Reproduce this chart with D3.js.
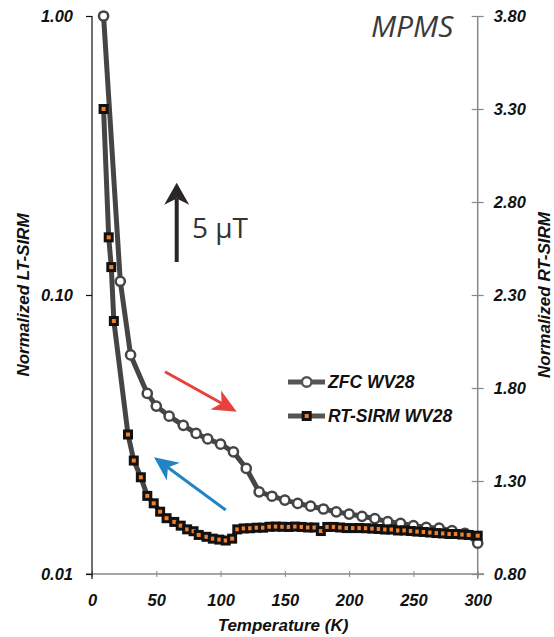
<!DOCTYPE html>
<html><head><meta charset="utf-8">
<script src="https://cdn.jsdelivr.net/npm/d3@7"></script>
<style>body{margin:0;background:#fff}svg{display:block}</style>
</head><body>
<svg id="c" width="554" height="637"></svg>
<script>
// ZFC WV28 (left axis, log)
const zfcT = [9, 22, 30, 43, 50, 60, 71, 81, 90, 100, 110, 120, 130, 140, 150, 160, 170, 180, 190, 200, 210, 220, 230, 240, 250, 260, 270, 280, 290, 300];
const zfcV = [1.00, 0.112, 0.061, 0.0444, 0.0400, 0.0368, 0.0341, 0.0319, 0.0305, 0.0292, 0.0274, 0.0239, 0.0197, 0.0190, 0.0184, 0.0179, 0.0175, 0.0171, 0.0167, 0.0164, 0.0161, 0.0158, 0.0154, 0.0152, 0.0149, 0.0147, 0.0146, 0.0143, 0.0140, 0.0129];
// RT-SIRM WV28 (right axis, linear)
const rtT = [9, 13, 15, 17, 28, 32.5, 38, 43, 48, 53, 58, 64, 69, 74, 79, 83, 89, 94, 99, 104, 109, 113,
  118, 123, 128, 133, 138, 143, 148, 153, 158, 163, 168, 173, 178, 183, 188, 193, 198, 203, 208, 213, 218, 223, 228, 233, 238, 243, 248, 253, 258, 263, 268, 273, 278, 283, 288, 293, 300];
const rtV = [3.30, 2.61, 2.45, 2.16, 1.55, 1.41, 1.32, 1.22, 1.18, 1.135, 1.10, 1.08, 1.06, 1.04, 1.03, 1.01, 1.00, 0.99, 0.985, 0.98, 0.99, 1.04,
  1.045, 1.046, 1.049, 1.049, 1.054, 1.055, 1.054, 1.053, 1.055, 1.053, 1.050, 1.050, 1.031, 1.053, 1.053, 1.050, 1.047, 1.047, 1.047, 1.046, 1.044, 1.042, 1.039, 1.039, 1.034, 1.034, 1.031, 1.028, 1.026, 1.023, 1.020, 1.018, 1.015, 1.015, 1.012, 1.010, 1.006];

const xTicks = [0, 50, 100, 150, 200, 250, 300];
const yLeftTicks = [0.01, 0.1, 1];
const yRightTicks = [0.8, 1.3, 1.8, 2.3, 2.8, 3.3, 3.8];
const seriesNames = ["ZFC WV28", "RT-SIRM WV28"];

const svg = d3.select("#c");
const x = d3.scaleLinear().domain([0, 300]).range([92, 477.7]);
const yL = d3.scaleLog().domain([0.01, 1]).range([574, 16]);
const yR = d3.scaleLinear().domain([0.8, 3.8]).range([574, 16]);

const tickFont = "'Liberation Sans', Arial, sans-serif";

// Bottom axis
const gx = svg.append("g").attr("transform", "translate(0,574)")
  .call(d3.axisBottom(x).tickValues(xTicks).tickFormat(d3.format("d")).tickSizeInner(3).tickSizeOuter(0));
gx.select(".domain").remove();
gx.selectAll(".tick line").attr("y1", -3).attr("y2", 3).attr("stroke", "#888");
gx.selectAll(".tick text").attr("y", 20).attr("dy", "0.71em")
  .style("font-family", tickFont).style("font-size", "16.5px").style("font-weight", "bold").style("font-style", "italic").attr("fill", "#111");
svg.append("line").attr("x1", 86).attr("x2", 484).attr("y1", 574).attr("y2", 574).attr("stroke", "#888").attr("stroke-width", 1.5);

// Right axis
const gr = svg.append("g").attr("transform", `translate(${x(300)},0)`)
  .call(d3.axisRight(yR).tickValues(yRightTicks).tickFormat(d3.format(".2f")).tickSizeInner(6).tickSizeOuter(0).tickPadding(10));
gr.select(".domain").remove();
gr.selectAll(".tick line").attr("x1", -6).attr("x2", 6).attr("stroke", "#888").attr("stroke-width", 1.2);
gr.selectAll(".tick text")
  .style("font-family", tickFont).style("font-size", "16.5px").style("font-weight", "bold").style("font-style", "italic").attr("fill", "#111");
svg.append("line").attr("x1", x(300)).attr("x2", x(300)).attr("y1", 16).attr("y2", 579).attr("stroke", "#888").attr("stroke-width", 1.5);

// Left axis
const gl = svg.append("g").attr("transform", "translate(92,0)")
  .call(d3.axisLeft(yL).tickValues(yLeftTicks).tickFormat(d3.format(".2f")).tickSizeInner(6).tickSizeOuter(0).tickPadding(13));
gl.select(".domain").remove();
gl.selectAll(".tick line").attr("stroke", "#111").attr("stroke-width", 1.2);
gl.selectAll(".tick text")
  .style("font-family", tickFont).style("font-size", "16.5px").style("font-weight", "bold").style("font-style", "italic").attr("fill", "#111");
svg.append("line").attr("x1", 92).attr("x2", 92).attr("y1", 16).attr("y2", 579).attr("stroke", "#111").attr("stroke-width", 1.2);

// Axis titles
const titleStyle = s => s.style("font-family", tickFont).style("font-size", "17px").style("font-weight", "bold").style("font-style", "italic").attr("fill", "#111").attr("text-anchor", "middle");
svg.append("text").attr("x", 283).attr("y", 631).text("Temperature (K)").call(titleStyle);
svg.append("text").attr("transform", "translate(29,295) rotate(-90)").text("Normalized LT-SIRM").call(titleStyle);
svg.append("text").attr("transform", "translate(550,295) rotate(-90)").text("Normalized RT-SIRM").call(titleStyle);

// Annotations
svg.append("text").attr("x", 371).attr("y", 37).text("MPMS")
  .style("font-family", "'Open Sans', sans-serif").style("font-size", "30px").style("font-style", "italic").attr("fill", "#3a3a3a");
svg.append("text").attr("x", 192).attr("y", 238).text("5 μT")
  .style("font-family", "'Open Sans', sans-serif").style("font-size", "28px").attr("fill", "#333");

function arrow(x0, y0, x1, y1, color, w, hl, hw) {
  const dx = x1 - x0, dy = y1 - y0, L = Math.hypot(dx, dy);
  const ux = dx / L, uy = dy / L, px = -uy, py = ux;
  const bx = x1 - ux * hl, by = y1 - uy * hl;
  const nx = x1 - ux * hl * 0.72, ny = y1 - uy * hl * 0.72;
  svg.append("line").attr("x1", x0).attr("y1", y0).attr("x2", nx).attr("y2", ny)
    .attr("stroke", color).attr("stroke-width", w);
  svg.append("path").attr("d", `M${x1},${y1}L${bx + px * hw},${by + py * hw}L${nx},${ny}L${bx - px * hw},${by - py * hw}Z`)
    .attr("fill", color);
}
arrow(176.7, 262, 176.7, 182.7, "#2b2626", 4, 22, 12.5);
arrow(165, 371.7, 236.7, 411.7, "#e8413c", 3, 24, 11);
arrow(225.7, 510, 154, 457.3, "#2185c5", 3, 24, 11);

// Series lines
const lineColor = "#454545";
const zfc = zfcT.map((t, i) => [t, zfcV[i]]);
const rt = rtT.map((t, i) => [t, rtV[i]]);
svg.append("path").datum(zfc)
  .attr("d", d3.line().x(d => x(d[0])).y(d => yL(d[1])))
  .attr("fill", "none").attr("stroke", lineColor).attr("stroke-width", 5).attr("stroke-linejoin", "round");
svg.selectAll(".zc").data(zfc).enter().append("circle")
  .attr("cx", d => x(d[0])).attr("cy", d => yL(d[1])).attr("r", 4.6)
  .attr("fill", "#fff").attr("stroke", lineColor).attr("stroke-width", 2.5);

svg.append("path").datum(rt)
  .attr("d", d3.line().x(d => x(d[0])).y(d => yR(d[1])))
  .attr("fill", "none").attr("stroke", lineColor).attr("stroke-width", 5).attr("stroke-linejoin", "round");
const sq = svg.selectAll(".rs").data(rt).enter().append("g")
  .attr("transform", d => `translate(${x(d[0])},${yR(d[1])})`);
sq.append("rect").attr("x", -5).attr("y", -5).attr("width", 10).attr("height", 10).attr("fill", "#111");
sq.append("rect").attr("x", -2).attr("y", -2).attr("width", 4).attr("height", 4).attr("fill", "#f07f2e");

// Legend
const legY = [382, 416];
seriesNames.forEach((name, i) => {
  const g = svg.append("g").attr("transform", `translate(0,${legY[i]})`);
  g.append("line").attr("x1", 288).attr("x2", 325).attr("stroke", "#555").attr("stroke-width", 5);
  if (i === 0) {
    g.append("circle").attr("cx", 306.7).attr("r", 4.8).attr("fill", "#fff").attr("stroke", "#555").attr("stroke-width", 2.5);
  } else {
    g.append("rect").attr("x", 301.7).attr("y", -5).attr("width", 10).attr("height", 10).attr("fill", "#111");
    g.append("rect").attr("x", 304.7).attr("y", -2).attr("width", 4).attr("height", 4).attr("fill", "#f07f2e");
  }
  g.append("text").attr("x", 328).attr("y", 6.3).text(name)
    .style("font-family", tickFont).style("font-size", "17.5px").style("font-weight", "bold").style("font-style", "italic").attr("fill", "#111");
});
</script>
</body></html>
